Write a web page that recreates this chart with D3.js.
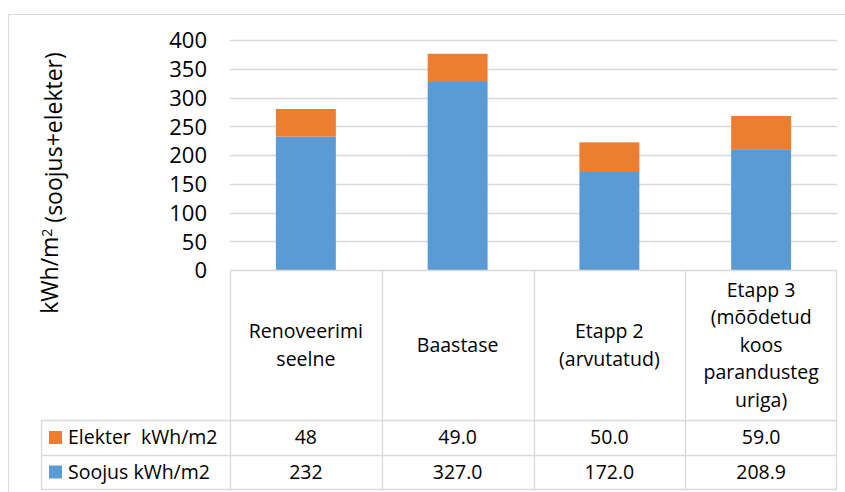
<!DOCTYPE html>
<html><head><meta charset="utf-8">
<script src="https://cdn.jsdelivr.net/npm/d3@7"></script>
<style>body{margin:0;background:#fff}svg{display:block}text{font-family:"Open Sans",sans-serif;fill:#000}</style>
</head><body><svg id="c" width="845" height="492"></svg>
<script>
const categories = [["Renoveerimi","seelne"],["Baastase"],["Etapp 2","(arvutatud)"],["Etapp 3","(mõõdetud","koos","parandusteg","uriga)"]];
const elekter = [48, 49.0, 50.0, 59.0];
const soojus = [232, 327.0, 172.0, 208.9];
const elekterLabels = ["48","49.0","50.0","59.0"];
const soojusLabels = ["232","327.0","172.0","208.9"];
const yTicks = [0,50,100,150,200,250,300,350,400];
const seriesNames = ["Elekter  kWh/m2","Soojus kWh/m2"];
const colors = {Elekter:"#ED7D31", Soojus:"#5B9BD5"};

const FONT = '"Open Sans",sans-serif';
const svg = d3.select("#c");
const L = 230, R = 837, T = 40, B = 270;
const grid = "#d9d9d9";
// outer frame
svg.append("line").attr("x1",8.5).attr("x2",845).attr("y1",14.5).attr("y2",14.5).attr("stroke",grid);
svg.append("line").attr("x1",8.5).attr("x2",8.5).attr("y1",14.5).attr("y2",492).attr("stroke",grid);

const idx = categories.map((d,i)=>i);
const x = d3.scaleBand().domain(idx).range([L,R]).padding(0);
const y = d3.scaleLinear().domain([0,400]).range([B,T]);

// grid
svg.append("g").selectAll("line").data(yTicks.filter(d=>d>0)).join("line")
  .attr("x1",L).attr("x2",R).attr("y1",d=>Math.round(y(d))+0.5).attr("y2",d=>Math.round(y(d))+0.5)
  .attr("stroke",grid).attr("stroke-width",1.3);

// y axis labels
const yAxis = d3.axisLeft(y).tickValues(yTicks).tickSize(0).tickPadding(0);
const ya = svg.append("g").attr("transform",`translate(207,0)`).call(yAxis);
ya.select(".domain").remove();
ya.selectAll("text").style("font-size","22px").style("font-family",FONT).attr("fill","#000").attr("dy","0.36em");

// bars
const bw = x.bandwidth()*0.395;
const stack = idx.map(i=>({i, s:soojus[i], e:elekter[i]}));
const g = svg.append("g");
g.selectAll(".s").data(stack).join("rect")
  .attr("x",d=>x(d.i)+x.bandwidth()/2-bw/2).attr("width",bw)
  .attr("y",d=>y(d.s)).attr("height",d=>y(0)-y(d.s)).attr("fill",colors.Soojus);
g.selectAll(".e").data(stack).join("rect")
  .attr("x",d=>x(d.i)+x.bandwidth()/2-bw/2).attr("width",bw)
  .attr("y",d=>y(d.s+d.e)).attr("height",d=>y(d.s)-y(d.s+d.e)).attr("fill",colors.Elekter);

// table
const rowTop = B, rowHead = 420, row1 = 455, row2 = 489, legL = 41;
const tl = svg.append("g").attr("stroke",grid).attr("stroke-width",1.3);
const hl = (x1,x2,yy)=>tl.append("line").attr("x1",x1).attr("x2",x2).attr("y1",yy).attr("y2",yy);
const vl = (xx,y1,y2)=>tl.append("line").attr("x1",xx).attr("x2",xx).attr("y1",y1).attr("y2",y2);
hl(L,R,rowTop+0.5); hl(legL,R,rowHead+0.5); hl(legL,R,row1+0.5); hl(legL,R,row2+0.5);
vl(legL+0.5,rowHead,row2);
idx.forEach(i=>vl(Math.round(x(i))+0.5,rowTop,row2));
vl(R-0.5,rowTop,row2);

// category labels
const lh = 27.5;
idx.forEach(i=>{
  const lines = categories[i];
  const cx = x(i)+x.bandwidth()/2;
  const mid = (rowTop+rowHead)/2;
  const start = mid - (lines.length-1)*lh/2;
  lines.forEach((t,j)=>svg.append("text").attr("x",cx).attr("y",start+j*lh).attr("dy","0.35em")
    .attr("text-anchor","middle").style("font-size","19.5px").text(t));
});
// value rows
const rows = [{name:seriesNames[0],c:colors.Elekter,vals:elekterLabels,y0:rowHead,y1:row1},
              {name:seriesNames[1],c:colors.Soojus,vals:soojusLabels,y0:row1,y1:row2}];
rows.forEach(r=>{
  const cy=(r.y0+r.y1)/2;
  svg.append("rect").attr("x",49).attr("y",cy-6.5).attr("width",13).attr("height",13).attr("fill",r.c);
  svg.append("text").attr("x",68).attr("y",cy).attr("dy","0.35em").style("font-size","19.5px").style("white-space","pre").attr("xml:space","preserve").text(r.name);
  r.vals.forEach((v,i)=>svg.append("text").attr("x",x(i)+x.bandwidth()/2).attr("y",cy).attr("dy","0.35em")
    .attr("text-anchor","middle").style("font-size","19.5px").text(v));
});

// y title
const yt = svg.append("text").attr("transform","translate(50,183) rotate(-90)").attr("text-anchor","middle")
  .attr("dy","0.35em").style("font-size","23px");
yt.append("tspan").text("kWh/m");
yt.append("tspan").attr("dy","-0.45em").style("font-size","14px").text("2");
yt.append("tspan").attr("dy","0.45em").text(" (soojus+elekter)");
</script></body></html>
